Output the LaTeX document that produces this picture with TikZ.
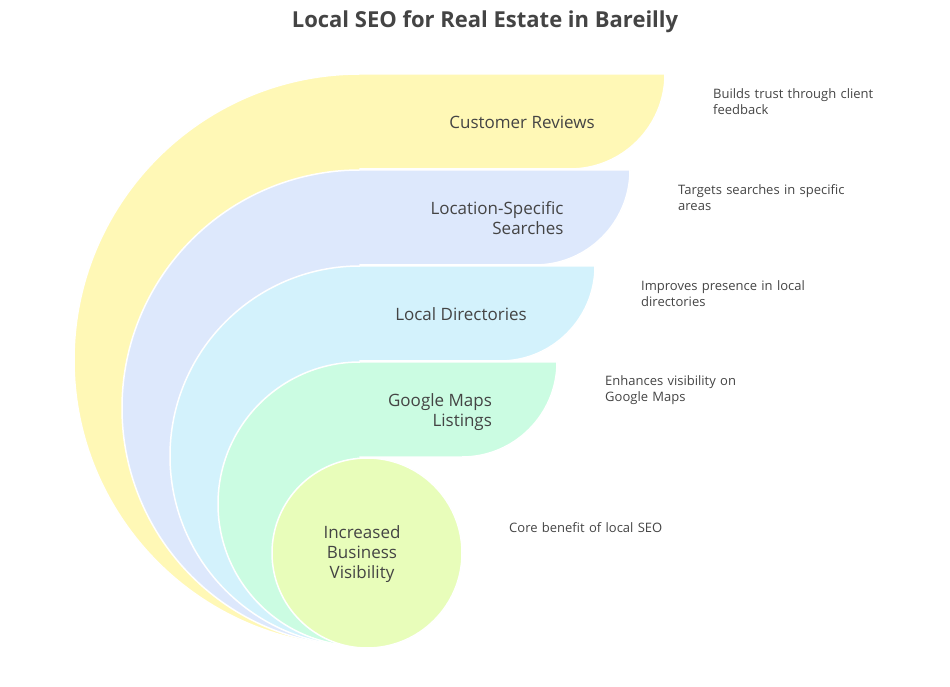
\documentclass[tikz,border=0pt]{standalone}
\usepackage{fontspec}
\setmainfont{Open Sans}
\definecolor{reviewcol}{HTML}{FFF8B6}
\definecolor{searchcol}{HTML}{DDE8FC}
\definecolor{directcol}{HTML}{D3F2FC}
\definecolor{mapscol}{HTML}{CBFCE2}
\definecolor{corecol}{HTML}{E8FDBA}
\definecolor{textcol}{HTML}{444444}
\tikzset{
  band/.style={draw=white, line width=1.5pt},
  label/.style={text=textcol, font=\fontsize{17}{20}\selectfont, align=center},
  note/.style={text=textcol, font=\fontsize{13}{16}\selectfont, align=left, anchor=west, text width=200pt, inner sep=0pt}
}
\begin{document}
\begin{tikzpicture}[x=1pt,y=1pt]
			\useasboundingbox (0,0) rectangle (950,686);

			% Bands, outermost first
			\draw[band, fill=reviewcol] (360,40) arc (-90:-270:286) -- (665,612) arc (0:-90:95) -- (360,517) -- cycle;
			\draw[band, fill=searchcol] (360,40) arc (-90:-270:238) -- (630,516) arc (0:-90:95) -- (360,421) -- cycle;
			\draw[band, fill=directcol] (360,40) arc (-90:-270:190) -- (595,420) arc (0:-90:95) -- (360,325) -- cycle;
			\draw[band, fill=mapscol] (360,40) arc (-90:-270:142) -- (557,324) arc (0:-90:95) -- (360,229) -- cycle;

			% Core circle
			\draw[band, fill=corecol] (367,133) circle (95);

			% Labels
			\node[label] (reviews) at (522,564) {Customer Reviews};
			\node[label, align=right] (searches) at (497,468) {Location-Specific\\Searches};
			\node[label] (directories) at (461,372) {Local Directories};
			\node[label, align=right] (maps) at (440,274) {Google Maps\\Listings};
			\node[label] (core) at (362,132) {Increased\\Business\\Visibility};

			% Notes
			\node[note] (reviewsnote) at (713,584) {Builds trust through client\\feedback};
			\node[note] (searchesnote) at (678,488) {Targets searches in specific\\areas};
			\node[note] (directoriesnote) at (641,392) {Improves presence in local\\directories};
			\node[note] (mapsnote) at (605,296) {Enhances visibility on\\Google Maps};
			\node[note] (corenote) at (509,158) {Core benefit of local SEO};

			% Title
			\node[text=textcol, font=\bfseries\fontsize{22}{26}\selectfont] (title) at (485,664) {Local SEO for Real Estate in Bareilly};

		\end{tikzpicture}
\end{document}
